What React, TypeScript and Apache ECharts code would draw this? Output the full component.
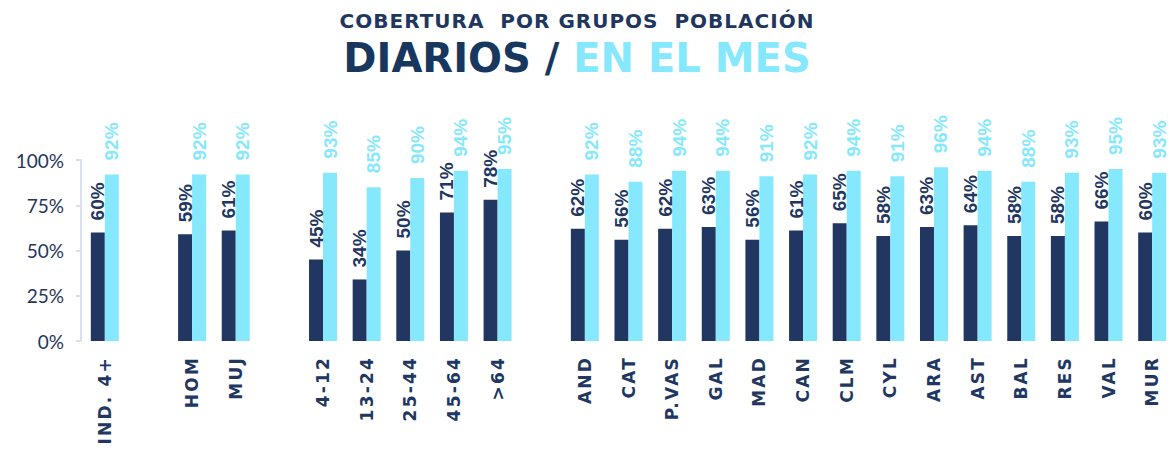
import React, { useEffect, useRef } from "react";
import * as echarts from "echarts";

const categories = [
  "IND. 4+", "", "HOM", "MUJ", " ", "4-12", "13-24", "25-44", "45-64", ">64", "  ",
  "AND", "CAT", "P.VAS", "GAL", "MAD", "CAN", "CLM", "CYL", "ARA", "AST", "BAL", "RES", "VAL", "MUR",
];
const diarios = [
  60, null, 59, 61, null, 45, 34, 50, 71, 78, null,
  62, 56, 62, 63, 56, 61, 65, 58, 63, 64, 58, 58, 66, 60,
];
const enElMes = [
  92, null, 92, 92, null, 93, 85, 90, 94, 95, null,
  92, 88, 94, 94, 91, 92, 94, 91, 96, 94, 88, 93, 95, 93,
];
const yTicks = [0, 25, 50, 75, 100];
const titleLine1 = "COBERTURA  POR GRUPOS  POBLACIÓN";

const DARK = "#213761";
const LIGHT = "#86e8fc";

export default function App() {
  const ref = useRef<HTMLDivElement>(null);
  useEffect(() => {
    if (!ref.current) return;
    const el = ref.current;
    const chart = echarts.init(el, null, { renderer: "svg" });
    const catSet = new Set(categories.filter((c) => c.trim() !== ""));
    const applySpacing = () => {
      el.querySelectorAll("text").forEach((t) => {
        const s = (t.textContent || "").trim();
        if (catSet.has(s)) t.setAttribute("letter-spacing", "2.2");
        else if (s === titleLine1.trim()) t.setAttribute("letter-spacing", "1");
      });
    };
    chart.on("finished", applySpacing);
    chart.setOption({
      animation: false,
      backgroundColor: "#ffffff",
      graphic: [
        {
          type: "text",
          x: 577,
          y: 21,
          style: {
            text: titleLine1,
            fill: "#1f375e",
            font: "bold 20px 'DejaVu Sans'",
            align: "center",
            verticalAlign: "middle",
          },
        },
        {
          type: "text",
          x: 577,
          y: 58,
          style: {
            text: "{a|DIARIOS / }{b|EN EL MES}",
            align: "center",
            verticalAlign: "middle",
            rich: {
              a: { fill: "#17375e", font: "bold 40px 'DejaVu Sans'" },
              b: { fill: LIGHT, font: "bold 40px 'DejaVu Sans'" },
            },
          },
        },
      ],
      grid: { left: 83, top: 160, width: 1100, height: 181, containLabel: false },
      xAxis: {
        type: "category",
        data: categories,
        axisLine: { show: false },
        axisTick: { show: false },
        axisLabel: {
          interval: 0,
          rotate: 90,
          margin: 15,
          color: DARK,
          fontFamily: "DejaVu Sans",
          fontWeight: "bold",
          fontSize: 17,
        },
      },
      yAxis: {
        type: "value",
        min: 0,
        max: 100,
        interval: 25,
        offset: 2,
        splitLine: { show: false },
        axisLine: { show: true, lineStyle: { color: "#d9e0f0", width: 2 } },
        axisTick: { show: true, length: 5, lineStyle: { color: "#d9e0f0", width: 2 } },
        axisLabel: {
          margin: 17,
          color: "#26355c",
          fontFamily: "Lato",
          fontWeight: "normal",
          fontSize: 19,
          formatter: (v: number) => (yTicks.includes(v) ? v + "%" : ""),
        },
      },
      series: [
        {
          name: "Diarios",
          type: "bar",
          data: diarios,
          barWidth: 14,
          barGap: "0%",
          itemStyle: { color: DARK },
          label: {
            show: true,
            position: "top",
            rotate: 90,
            align: "left",
            verticalAlign: "middle",
            distance: 12,
            color: DARK,
            fontFamily: "Liberation Sans",
            fontWeight: "bold",
            fontSize: 19,
            formatter: "{c}%",
          },
        },
        {
          name: "En el mes",
          type: "bar",
          data: enElMes,
          barWidth: 14,
          barGap: "0%",
          itemStyle: { color: LIGHT },
          label: {
            show: true,
            position: "top",
            rotate: 90,
            align: "left",
            verticalAlign: "middle",
            distance: 14,
            color: LIGHT,
            fontFamily: "Liberation Sans",
            fontWeight: "bold",
            fontSize: 19,
            formatter: "{c}%",
          },
        },
      ],
    });
    applySpacing();
    const raf = requestAnimationFrame(applySpacing);
    return () => {
      cancelAnimationFrame(raf);
      chart.dispose();
    };
  }, []);
  return (
    <div style={{ position: "absolute", left: 0, top: 0, width: 1174, height: 450, overflow: "hidden" }}>
      <div ref={ref} style={{ width: 1174, height: 450 }} />
    </div>
  );
}
